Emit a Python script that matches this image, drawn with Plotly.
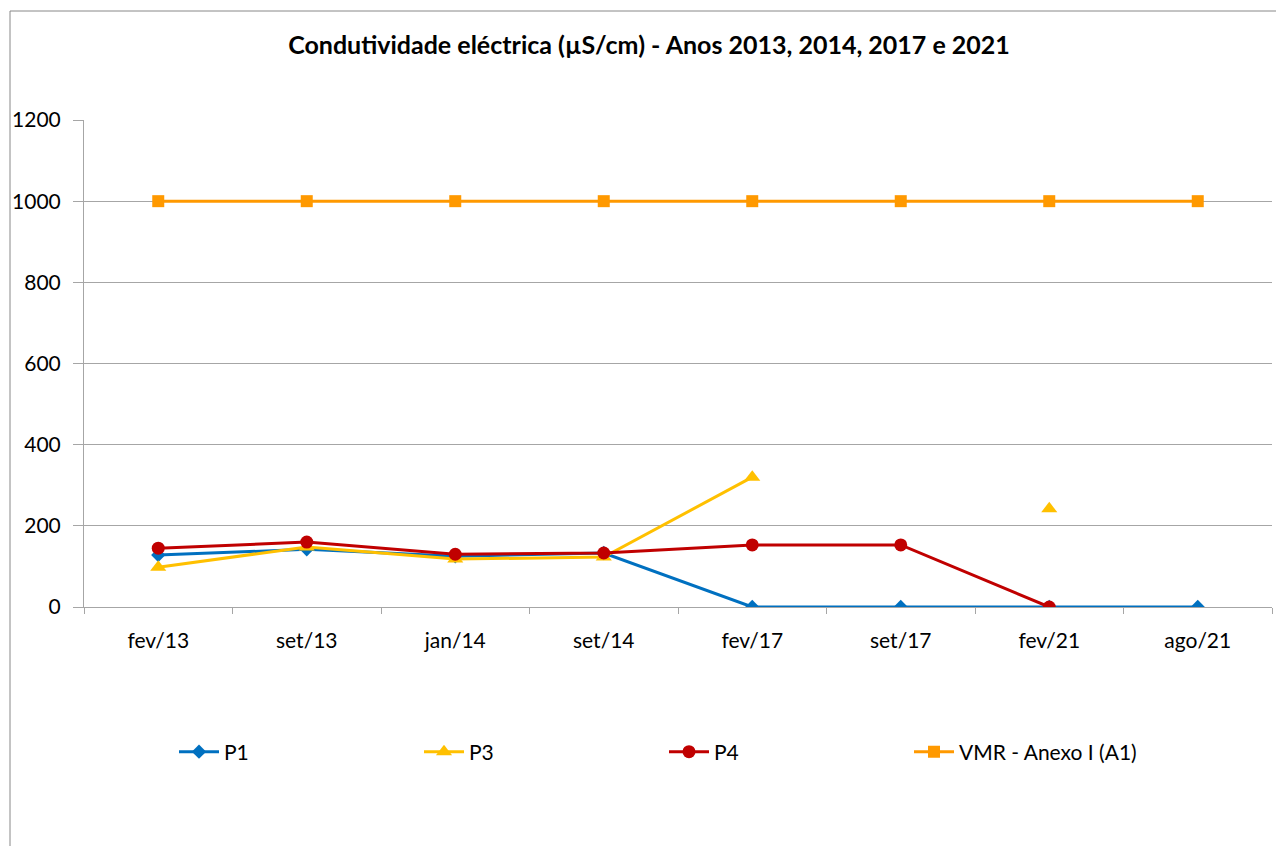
import plotly.graph_objects as go

categories = ["fev/13", "set/13", "jan/14", "set/14", "fev/17", "set/17", "fev/21", "ago/21"]
p1 = [128, 142, 125, 133, 0, 0, 0, 0]
p3 = [98, 148, 118, 123, 320, None, 242, None]
p4 = [145, 160, 130, 133, 153, 153, 0, None]
vmr = [1000, 1000, 1000, 1000, 1000, 1000, 1000, 1000]
y_ticks = [0, 200, 400, 600, 800, 1000, 1200]

FONT = "Lato"
W, H = 1284, 846
L, T, PW, PH = 76, 112, 1188, 487   # plot area in figure coords (page has 8px body margin)
fig = go.Figure()
series = [
    ("P1", p1, "#0070C0", "diamond", 11),
    ("P3", p3, "#FFC000", "triangle-up", 14),
    ("P4", p4, "#C00000", "circle", 13),
    ("VMR - Anexo I (A1)", vmr, "#FF9900", "square", 12),
]
for name, vals, col, sym, sz in series:
    fig.add_trace(go.Scatter(
        x=categories, y=vals, name=name, mode="lines+markers",
        line=dict(color=col, width=3), marker=dict(symbol=sym, size=sz, color=col),
        connectgaps=False,
    ))

def py(fy):  # figure y (px from top) -> paper y
    return (T + PH - fy) / PH

def px(fx):
    return (fx - L) / PW

fig.update_layout(
    width=W, height=H,
    paper_bgcolor="white", plot_bgcolor="white",
    margin=dict(l=L, r=W - L - PW, t=T, b=H - T - PH, autoexpand=False),
    title=dict(text="<b>Condutividade eléctrica (µS/cm) - Anos 2013, 2014, 2017 e 2021</b>",
               x=641/W, xref="container", xanchor="center", y=1 - 37/H, yref="container", yanchor="middle",
               font=dict(family=FONT, size=25, color="black")),
    font=dict(family=FONT, size=21, color="black"),
    showlegend=True,
    legend=dict(orientation="h", x=px(166), xanchor="left", yref="container",
                y=1 - 744/H, yanchor="middle",
                entrywidth=190, entrywidthmode="pixels", font=dict(family=FONT, size=21),
                itemwidth=40, bgcolor="rgba(0,0,0,0)"),
    shapes=[dict(type="rect", xref="paper", yref="paper",
                 x0=px(2), x1=px(1300), y0=py(900), y1=py(3),
                 line=dict(color="#888888", width=1), layer="below")],
)
fig.update_xaxes(type="category", showgrid=False, showline=True, linecolor="#A6A6A6", linewidth=1,
                 ticks="outside", tickson="boundaries", ticklen=6, tickcolor="#A6A6A6",
                 ticklabelstandoff=15, automargin=False,
                 tickfont=dict(family=FONT, size=21), range=[-0.5, 7.5])
fig.update_yaxes(range=[0, 1200], tickvals=y_ticks, showgrid=True, gridcolor="#A6A6A6", gridwidth=1,
                 showline=True, linecolor="#A6A6A6", linewidth=1, ticks="outside", ticklen=10,
                 tickcolor="#A6A6A6", ticklabelstandoff=8, automargin=False,
                 tickfont=dict(family=FONT, size=21), zeroline=False)

fig.write_html("out.html")
